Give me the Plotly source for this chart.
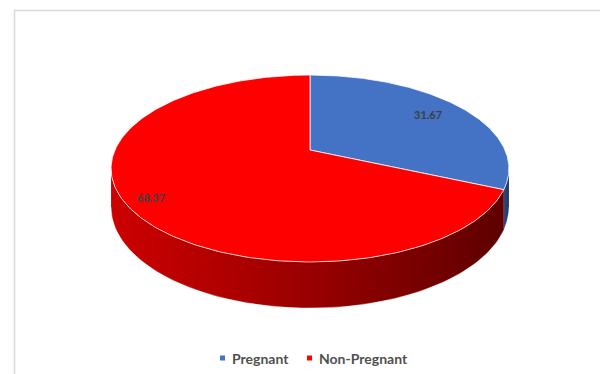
import numpy as np
import plotly.graph_objects as go

# Data
categories = ["Pregnant", "Non-Pregnant"]
values = [31.67, 68.37]
top_colors = ["#4472C4", "#FF0000"]
side_scales = [
    [[0, "#2E4B86"], [1, "#1F3461"]],
    [[0, "#CC0000"], [0.5, "#9A0000"], [1, "#5E0000"]],
]

W, H = 600, 374

# Tilted-pie geometry (pixel space of the figure)
CX, CY = 310.0, 150.0      # pie apex on the top face
RX, RY = 195.0, 89.8       # radii of the top face
K = 0.198                  # perspective strength (near side larger)
DEPTH = 37.0               # thickness of the pie
LABEL_RADIUS = (0.78, 0.88)

# Legend row (square marker + text per entry)
LEGEND_Y = 358
LEGEND_X = (222.5, 309.5)
LEGEND_FONT = dict(family="Lato, Arial, sans-serif", size=14, color="#505050")


def project(theta_deg, frac=1.0):
    """Angle measured clockwise from the far side of the pie."""
    t = np.radians(theta_deg)
    u = frac * np.sin(t)
    v = -frac * np.cos(t)
    s = 1.0 / (1.0 - K * v)
    return CX + RX * u * s, CY + RY * v * s, s


total = sum(values)
angles = np.cumsum([0] + [v / total * 360.0 for v in values])

# Silhouette angles where the side wall becomes visible
vis_a = np.degrees(np.arccos(-K))
vis_b = 360.0 - vis_a

fig = go.Figure()

# Side walls
for i, cat in enumerate(categories):
    a = max(angles[i], vis_a)
    b = min(angles[i + 1], vis_b)
    if b <= a:
        continue
    th = np.linspace(a, b, 120)
    tx, ty, ts = project(th)
    bx, by = tx, ty + DEPTH * ts
    xs = np.concatenate([tx, bx[::-1], tx[:1]])
    ys = np.concatenate([ty, by[::-1], ty[:1]])
    fig.add_trace(go.Scatter(
        x=xs, y=ys, mode="lines", fill="toself",
        fillgradient=dict(type="horizontal", colorscale=side_scales[i]),
        line=dict(color="rgba(0,0,0,0)", width=0),
        hoverinfo="skip", showlegend=False,
    ))
    # soft edge along the bottom of the wall
    fig.add_trace(go.Scatter(
        x=bx, y=by, mode="lines",
        line=dict(color="rgba(255,255,255,0.35)", width=1),
        hoverinfo="skip", showlegend=False,
    ))

# Top faces
for i, cat in enumerate(categories):
    th = np.linspace(angles[i], angles[i + 1], 240)
    tx, ty, _ = project(th)
    xs = np.concatenate([[CX], tx, [CX]])
    ys = np.concatenate([[CY], ty, [CY]])
    fig.add_trace(go.Scatter(
        x=xs, y=ys, mode="lines", fill="toself", fillcolor=top_colors[i],
        line=dict(color="rgba(255,255,255,0.75)", width=1),
        hoverinfo="skip", showlegend=False,
    ))

# Value labels
for i, val in enumerate(values):
    mid = (angles[i] + angles[i + 1]) / 2.0
    lx, ly, _ = project(mid, LABEL_RADIUS[i])
    fig.add_annotation(
        x=lx, y=ly, text=f"<b>{val:.2f}</b>", showarrow=False,
        font=dict(family="Lato, Arial, sans-serif", size=11, color="#404040"),
    )

# Legend: colour squares with category names
fig.add_trace(go.Scatter(
    x=list(LEGEND_X), y=[LEGEND_Y] * len(categories), mode="markers",
    marker=dict(symbol="square", size=5, color=top_colors),
    hoverinfo="skip", showlegend=False,
))
for i, cat in enumerate(categories):
    fig.add_annotation(
        x=LEGEND_X[i] + 7, y=LEGEND_Y, text=f"<b>{cat}</b>", showarrow=False,
        xanchor="left", yanchor="middle", font=LEGEND_FONT,
    )

fig.update_layout(
    width=W, height=H,
    margin=dict(l=0, r=0, t=0, b=0),
    paper_bgcolor="white", plot_bgcolor="white",
    xaxis=dict(range=[0, W], visible=False, fixedrange=True),
    yaxis=dict(range=[H, 0], visible=False, fixedrange=True),
    showlegend=False,
    shapes=[dict(
        type="rect", xref="paper", yref="paper",
        x0=14.5 / W, x1=1.02, y0=-0.02, y1=1 - 10.5 / H,
        line=dict(color="#D9D9D9", width=1.5), fillcolor="rgba(0,0,0,0)",
    )],
)

fig.write_html("out.html")
